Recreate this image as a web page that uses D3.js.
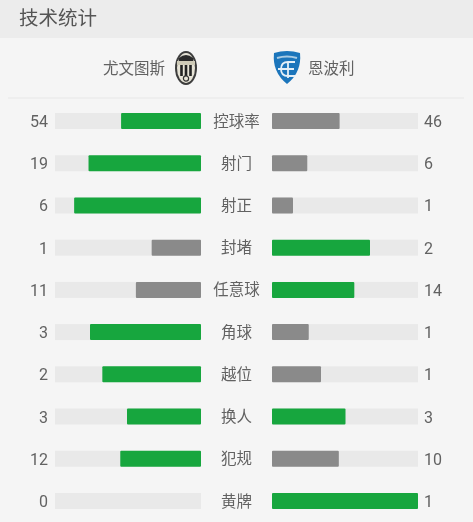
<!DOCTYPE html>
<html>
<head>
<meta charset="utf-8">
<title>技术统计</title>
<script src="https://cdn.jsdelivr.net/npm/d3@7"></script>
<style>
  html, body { margin: 0; padding: 0; background: #f5f5f5; }
  svg { display: block; filter: blur(0.35px); }
  text { font-family: Roboto, "Noto Sans CJK SC", sans-serif; fill: #626262; }
</style>
</head>
<body>
<svg id="chart" width="473" height="522"></svg>
<script>
var title = "技术统计"
var homeTeam = "尤文图斯"
var awayTeam = "恩波利"
var categories = ["控球率", "射门", "射正", "封堵", "任意球", "角球", "越位", "换人", "犯规", "黄牌"]
var homeValues = [54, 19, 6, 1, 11, 3, 2, 3, 12, 0]
var awayValues = [46, 6, 1, 2, 14, 1, 1, 3, 10, 1]

var green = "#17a63e", grey = "#8a8a8a", track = "#e9e9e9"

var svg = d3.select("#chart")

var rows = categories.map((c, i) => ({name: c, home: homeValues[i], away: awayValues[i]}))

// header
svg.append("rect").attr("width", 473).attr("height", 38).attr("fill", "#ececec")
svg.append("text").attr("x", 19).attr("y", 25).attr("font-size", 19.5).style("fill", "#555").text(title)
svg.append("rect").attr("x", 8).attr("y", 97.5).attr("width", 456).attr("height", 1).attr("fill", "#e8e8e8")

svg.append("text").attr("x", 165).attr("y", 74).attr("text-anchor", "end").attr("font-size", 15.5).text(homeTeam)
svg.append("text").attr("x", 308).attr("y", 74).attr("font-size", 15.5).text(awayTeam)

// juventus badge
var juve = svg.append("g").attr("transform", "translate(186,68)")
juve.append("ellipse").attr("rx", 11).attr("ry", 17).attr("fill", "#3d3d3d")
juve.append("ellipse").attr("rx", 9).attr("ry", 15).attr("fill", "#e6e3d6")
juve.append("path").attr("d", "M-7,-10 Q0,-16 7,-10 V-7 H-7 Z").attr("fill", "#2b2b2b")
juve.append("rect").attr("x", -9).attr("y", -7).attr("width", 18).attr("height", 4).attr("fill", "#cfcbb8")
;[-4.5, 0, 4.5].forEach(x => {
  juve.append("rect").attr("x", x - 1.3).attr("y", -3).attr("width", 2.6).attr("height", 11).attr("fill", "#222")
})
juve.append("circle").attr("cy", 10.5).attr("r", 2.6).attr("fill", "none").attr("stroke", "#333").attr("stroke-width", 1.2)

// empoli badge
var emp = svg.append("g").attr("transform", "translate(287,67)")
emp.append("path").attr("d", "M-13,-14 Q0,-18 13,-14 Q15,5 0,17 Q-15,5 -13,-14 Z").attr("fill", "#1b75bb")
emp.append("path").attr("d", "M-10,-9 Q0,-12 10,-9").attr("fill", "none").attr("stroke", "#a9cbe3").attr("stroke-width", 2)
emp.append("path").attr("d", "M8,-5 H1 Q-6,-5 -6,2 Q-6,9 1,9 H8 M-9,2 H7 M1,-5 V11").attr("fill", "none").attr("stroke", "#e4eff7").attr("stroke-width", 1.8)

// rows
var y = d3.scalePoint().domain(categories).range([121, 501])

var barH = 16
var leftX = d3.scaleLinear().domain([0, 1]).range([201, 53])
var rightX = d3.scaleLinear().domain([0, 1]).range([272, 419]).clamp(true)

function share(d, side) {
  return d[side] / (d.home + d.away)
}
function barColor(d, side) {
  var other = side == "home" ? "away" : "home"
  return d[side] >= d[other] ? green : grey
}

var row = svg.selectAll("g.row")
  .data(rows)
  .enter().append("g")
  .attr("class", "row")
  .attr("transform", d => `translate(0,${y(d.name)})`)

row.append("rect").attr("x", 55).attr("y", -barH / 2).attr("width", 146).attr("height", barH).attr("fill", track)
row.append("rect").attr("x", 272).attr("y", -barH / 2).attr("width", 146).attr("height", barH).attr("fill", track)

row.append("rect")
  .attr("x", d => leftX(share(d, "home")))
  .attr("y", -barH / 2)
  .attr("width", d => leftX(0) - leftX(share(d, "home")))
  .attr("height", barH)
  .attr("rx", 1)
  .attr("fill", d => barColor(d, "home"))

row.append("rect")
  .attr("x", rightX(0))
  .attr("y", -barH / 2)
  .attr("width", d => Math.min(rightX(share(d, "away")), 418) - rightX(0))
  .attr("height", barH)
  .attr("rx", 1)
  .attr("fill", d => barColor(d, "away"))

row.append("text").attr("x", 48).attr("y", 6).attr("text-anchor", "end").attr("font-size", 16).text(d => d.home)
row.append("text").attr("x", 424).attr("y", 6).attr("font-size", 16).text(d => d.away)
row.append("text").attr("x", 236.5).attr("y", 5.5).attr("text-anchor", "middle").attr("font-size", 15.5).text(d => d.name)
</script>
</body>
</html>
